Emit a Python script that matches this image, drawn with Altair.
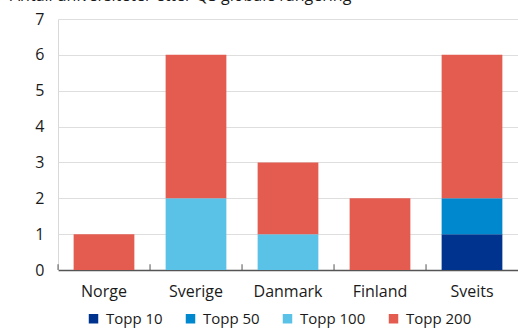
import altair as alt
import pandas as pd

countries = ["Norge", "Sverige", "Danmark", "Finland", "Sveits"]
series = ["Topp 10", "Topp 50", "Topp 100", "Topp 200"]
colors = ["#00338D", "#0088CE", "#5BC2E7", "#E45C50"]
topp10 = [0, 0, 0, 0, 1]
topp50 = [0, 0, 0, 0, 1]
topp100 = [0, 2, 1, 0, 0]
topp200 = [1, 4, 2, 2, 4]
y_ticks = [0, 1, 2, 3, 4, 5, 6, 7]

rows = []
for i, c in enumerate(countries):
    for k, (s, vals) in enumerate(zip(series, [topp10, topp50, topp100, topp200])):
        rows.append({"land": c, "serie": s, "verdi": vals[i], "rekkefolge": k})
df = pd.DataFrame(rows)
ticks_df = pd.DataFrame({"land": countries})

FONT = "Open Sans"
FS = 16

x_axis = alt.Axis(labelAngle=0, ticks=False, domainColor="#555555",
                  domainWidth=1.5, labelFontSize=FS, labelColor="#1a1a1a",
                  labelPadding=13, labelFont=FONT)
y_axis = alt.Axis(values=y_ticks, ticks=False, labelOverlap=False,
                  domainColor="#d9d9d9", gridColor="#dedede",
                  labelFontSize=FS, labelColor="#1a1a1a", labelPadding=14,
                  labelFont=FONT, title=None)
x_scale = alt.Scale(paddingInner=0.34, paddingOuter=0.17)

bars = alt.Chart(df).mark_bar().encode(
    x=alt.X("land:N", sort=countries, title=None, scale=x_scale, axis=x_axis),
    y=alt.Y("verdi:Q", aggregate="sum", title=None,
            scale=alt.Scale(domain=[0, 7], nice=False), axis=y_axis),
    color=alt.Color("serie:N", sort=series,
                    scale=alt.Scale(domain=series, range=colors),
                    legend=alt.Legend(title=None, orient="none", direction="horizontal",
                                      legendX=28, legendY=292, symbolType="square",
                                      symbolSize=90, symbolStrokeWidth=0,
                                      labelFontSize=15, labelFont=FONT,
                                      labelColor="#1a1a1a", columnPadding=20,
                                      labelOffset=5)),
    order=alt.Order("rekkefolge:Q", sort="ascending"),
)

ticks = alt.Chart(ticks_df).mark_rule(color="#555555", strokeWidth=1, xOffset=-15.6).encode(
    x=alt.X("land:N", sort=countries, bandPosition=0),
    y=alt.YDatum(0, scale=alt.Scale(domain=[0, 7], nice=False), axis=None),
    y2=alt.datum(0.16),
)

chart = alt.layer(bars, ticks).resolve_scale(y="independent").properties(
    width=460, height=251,
    autosize=alt.AutoSizeParams(type="none"),
    padding={"left": 58, "top": 19, "right": 0, "bottom": 59},
    title=alt.TitleParams("Antall universiteter etter QS globale rangering",
                          anchor="start", frame="group", dx=-48, offset=2, dy=8,
                          baseline="alphabetic", fontSize=FS, fontWeight="normal",
                          font=FONT, color="#1a1a1a"),
).configure_view(stroke=None)

chart.save("out.html", embed_options={"renderer": "svg", "actions": False})
